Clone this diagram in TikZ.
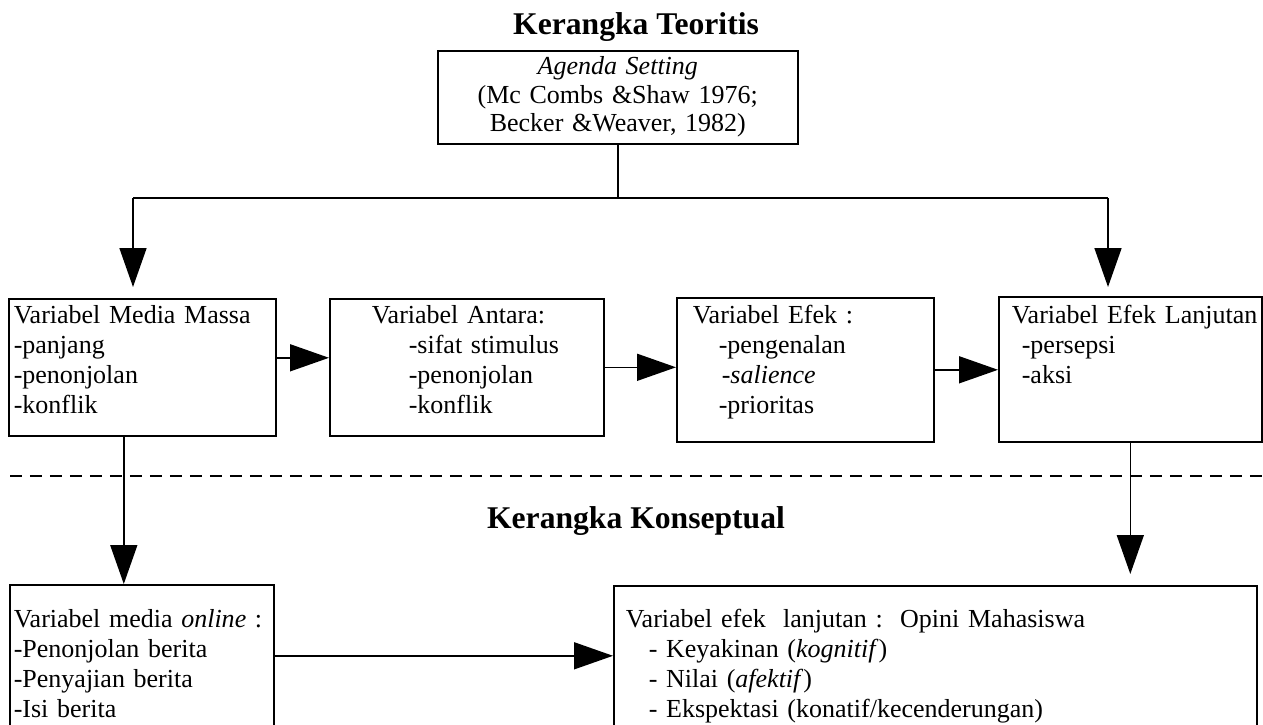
\documentclass[tikz,border=0pt]{standalone}
\usepackage{fontspec}
\setmainfont{Liberation Serif}
\usetikzlibrary{arrows.meta}
\newlength{\pix}
\setlength{\pix}{0.02cm}

\begin{document}
\begin{tikzpicture}[x=0.02cm, y=-0.02cm,
    box/.style={draw, line width=0.9pt, inner sep=0pt, anchor=north west, align=left,
      font=\fontsize{14.8}{17.1}\selectfont},
    heading/.style={font=\fontsize{18}{21}\selectfont\bfseries, anchor=base},
    link/.style={line width=0.9pt},
    arrow/.style={line width=0.9pt, -{Triangle[length=0.78cm, width=0.54cm]}}]
  \useasboundingbox (0,0) rectangle (1263,724);

  % Headings
  \node[heading] (teoritis) at (636,34) {Kerangka Teoritis};
  \node[heading] (konseptual) at (636,528) {Kerangka Konseptual};

  % Theory
  \node[box, align=center, font=\fontsize{14.8}{16.2}\selectfont,
    text width=360\pix, text height=24\pix, text depth=69\pix] (agenda) at (437,50)
    {\textit{Agenda Setting}\\(Mc Combs \&Shaw 1976;\\Becker \&Weaver, 1982)};

  % Variables of the theory
  \node[box, text width=267\pix, text height=25\pix, text depth=112\pix] (media) at (8,298)
    {\hspace*{5\pix}Variabel Media Massa\\\hspace*{5\pix}-panjang\\
     \hspace*{5\pix}-penonjolan\\\hspace*{5\pix}-konflik};
  \node[box, text width=274\pix, text height=25\pix, text depth=112\pix] (antara) at (329,298)
    {\hspace*{42\pix}Variabel Antara:\\\hspace*{79\pix}-sifat stimulus\\
     \hspace*{79\pix}-penonjolan\\\hspace*{79\pix}-konflik};
  \node[box, text width=257\pix, text height=26\pix, text depth=118\pix] (efek) at (676,297)
    {\hspace*{16\pix}Variabel Efek :\\\hspace*{42\pix}-pengenalan\\
     \hspace*{45\pix}-\textit{salience}\\\hspace*{42\pix}-prioritas};
  \node[box, text width=263\pix, text height=27\pix, text depth=118\pix] (lanjutan) at (998,296)
    {\hspace*{13\pix}Variabel Efek Lanjutan\\\hspace*{23\pix}-persepsi\\
     \hspace*{23\pix}-aksi};

  % Divider
  \draw[line width=0.9pt, dash pattern=on 0.24cm off 0.16cm] (10,476) -- (1263,476);

  % Variables of the concept
  \node[box, text width=264\pix, text height=43\pix, text depth=120\pix] (online) at (9,584)
    {\hspace*{4\pix}Variabel media \textit{online} :\\\hspace*{4\pix}-Penonjolan berita\\
     \hspace*{4\pix}-Penyajian berita\\\hspace*{4\pix}-Isi berita};
  \node[box, text width=643\pix, text height=42\pix, text depth=120\pix] (opini) at (613,585)
    {\hspace*{12\pix}Variabel efek\ \ lanjutan :\ \ Opini Mahasiswa\\
     \hspace*{35\pix}- Keyakinan (\textit{kognitif})\\
     \hspace*{35\pix}- Nilai (\textit{afektif})\\
     \hspace*{35\pix}- Ekspektasi (konatif/kecenderungan)};

  % Split from the theory
  \coordinate (hub) at (agenda.south |- 0,198);
  \coordinate (leftdrop) at (133,198);
  \coordinate (rightdrop) at (1108,198);
  \draw[link] (agenda.south) -- (hub);
  \draw[link] (leftdrop) -- (rightdrop);
  \draw[arrow, shorten >=0.22cm] (leftdrop) -- (leftdrop |- media.north);
  \draw[arrow, shorten >=0.18cm] (rightdrop) -- (rightdrop |- lanjutan.north);

  % Chain
  \draw[arrow] ([yshift=0.19cm]media.east) -- ([yshift=0.19cm]antara.west);
  \draw[arrow] (antara.east) -- (antara.east -| efek.west);
  \draw[arrow] (efek.east) -- (efek.east -| lanjutan.west);

  % Down to the concept
  \draw[arrow] ([xshift=-0.37cm]media.south) -- ([xshift=-0.37cm]media.south |- online.north);
  \draw[arrow, shorten >=0.22cm] (lanjutan.south) -- (lanjutan.south |- opini.north);
  \draw[arrow] ([yshift=0.21cm]online.east) -- ([yshift=0.21cm]online.east -| opini.west);
\end{tikzpicture}
\end{document}
